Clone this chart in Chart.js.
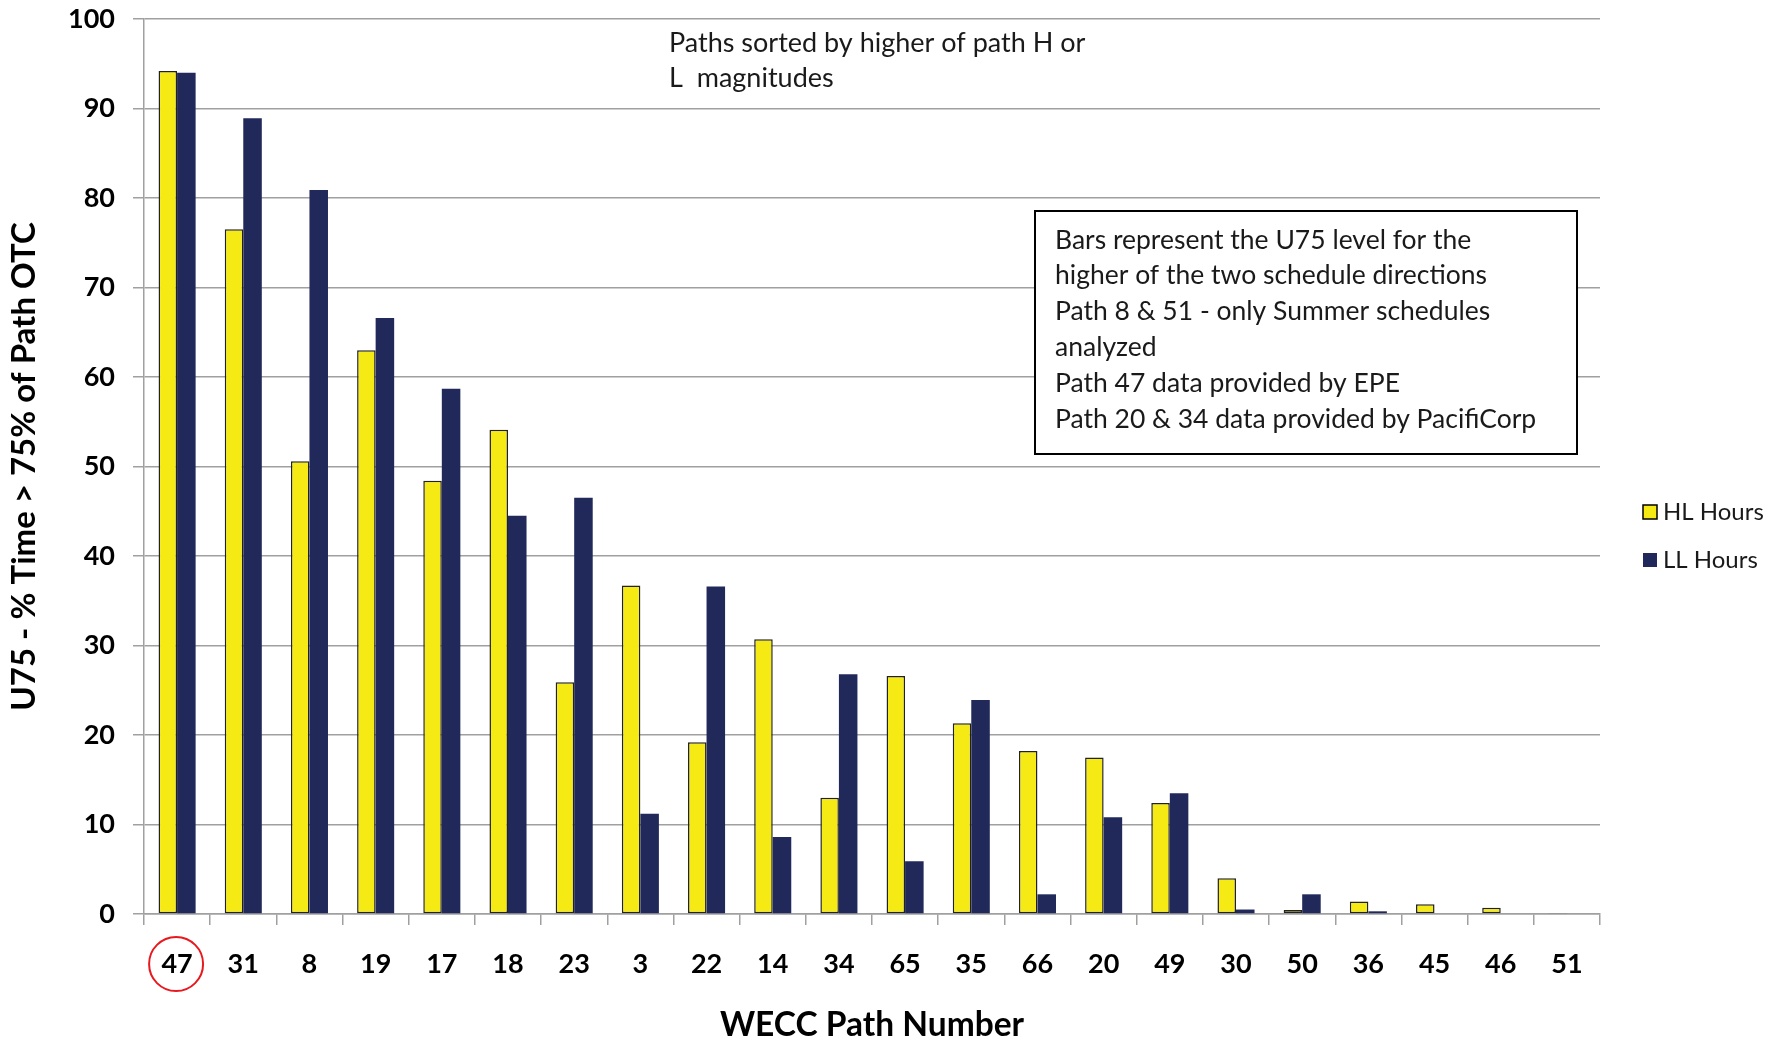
<!DOCTYPE html>
<html>
<head>
<meta charset="utf-8">
<script src="https://cdn.jsdelivr.net/npm/chart.js@4/dist/chart.umd.min.js"></script>
<style>
  body { margin: 0; background: #fff; }
  #wrap { width: 1781px; height: 1045px; }
</style>
</head>
<body>
<div id="wrap"><canvas id="pathChart" width="1781" height="1045"></canvas></div>
<script>
// WECC paths, sorted by the higher of H or L
const paths = ['47', '31', '8', '19', '17', '18', '23', '3', '22', '14', '34',
    '65', '35', '66', '20', '49', '30', '50', '36', '45', '46', '51'];
const hlHours = [94.2, 76.5, 50.6, 63.0, 48.4, 54.1, 25.9, 36.7, 19.2, 30.7, 13.0,
    26.6, 21.3, 18.2, 17.5, 12.4, 4.0, 0.45, 1.4, 1.1, 0.7, 0.1];
const llHours = [94.0, 88.9, 80.9, 66.6, 58.7, 44.5, 46.5, 11.2, 36.6, 8.6, 26.8,
    5.9, 23.9, 2.2, 10.8, 13.5, 0.5, 2.2, 0.3, 0, 0, 0];
const seriesNames = ['HL Hours', 'LL Hours'];

const noteTop = ['Paths sorted by higher of path H or', 'L  magnitudes'];
const noteBox = [
    'Bars represent the U75 level for the',
    'higher of the two schedule directions',
    'Path 8 & 51 - only Summer schedules',
    'analyzed',
    'Path 47 data provided by EPE',
    'Path 20 & 34 data provided by PacifiCorp'
];

const YELLOW = '#f5ea14';
const NAVY = '#21295b';
const GRID = '#a0a0a0';
const FONT = 'Lato, "Open Sans", sans-serif';

// notes, highlighted path, legend
const extrasPlugin = {
    id: 'extras',
    afterDraw(chart) {
        const ctx = chart.ctx;
        const area = chart.chartArea;
        ctx.save();
        ctx.fillStyle = '#1a1a1a';
        ctx.font = '27px ' + FONT;
        ctx.textBaseline = 'middle';
        ctx.textAlign = 'left';

        noteTop.forEach((line, i) => {
            ctx.fillText(line, 669, 43 + i * 35);
        });

        // text box
        ctx.fillStyle = '#fff';
        ctx.fillRect(1035, 211, 542, 243);
        ctx.strokeStyle = '#000';
        ctx.lineWidth = 2;
        ctx.strokeRect(1035, 211, 542, 243);
        ctx.fillStyle = '#1a1a1a';
        ctx.font = '26.5px ' + FONT;
        noteBox.forEach((line, i) => {
            ctx.fillText(line, 1055, 240 + i * 35.8);
        });

        // red circle round path 47
        const cx = chart.scales.x.getPixelForValue(0);
        ctx.strokeStyle = '#e8191e';
        ctx.lineWidth = 2;
        ctx.beginPath();
        ctx.arc(cx - 1, 964, 27, 0, Math.PI * 2);
        ctx.stroke();

        // legend
        ctx.font = '24px ' + FONT;
        chart.data.datasets.forEach((ds, i) => {
            const y = 512 + i * 48;
            ctx.fillStyle = ds.backgroundColor;
            ctx.fillRect(area.right + 43, y - 7, 14, 14);
            if (ds.borderWidth) {
                ctx.strokeStyle = '#000';
                ctx.lineWidth = 1.5;
                ctx.strokeRect(area.right + 43, y - 7, 14, 14);
            }
            ctx.fillStyle = '#1a1a1a';
            ctx.fillText(ds.label, area.right + 63, y);
        });
        ctx.restore();
    }
};

function createPathChart() {
    const ctx = document.getElementById('pathChart').getContext('2d');

    new Chart(ctx, {
        type: 'bar',
        data: {
            labels: paths,
            datasets: [{
                label: seriesNames[0],
                data: hlHours,
                backgroundColor: YELLOW,
                borderColor: '#222',
                borderWidth: 1.5,
                borderSkipped: false
            }, {
                label: seriesNames[1],
                data: llHours,
                backgroundColor: NAVY,
                borderWidth: 0
            }]
        },
        options: {
            responsive: false,
            animation: false,
            layout: {
                padding: { top: 19, right: 181, bottom: 0, left: 0 }
            },
            datasets: {
                bar: {
                    categoryPercentage: 0.56,
                    barPercentage: 1.0
                }
            },
            plugins: {
                legend: { display: false },
                tooltip: { enabled: false }
            },
            scales: {
                x: {
                    afterFit: scale => { scale.height = 131; },
                    grid: {
                        drawOnChartArea: false,
                        color: GRID,
                        lineWidth: 1.5,
                        tickLength: 11,
                        offset: true
                    },
                    border: { color: GRID, width: 1.5 },
                    ticks: {
                        color: '#000',
                        padding: 23,
                        maxRotation: 0,
                        font: { family: FONT, size: 27, weight: 'bold' }
                    },
                    title: {
                        display: true,
                        text: 'WECC Path Number',
                        color: '#000',
                        padding: { top: 0, bottom: 0 },
                        font: { family: FONT, size: 33.5, weight: 'bold' }
                    }
                },
                y: {
                    min: 0,
                    max: 100,
                    afterFit: scale => {
                        scale.width = 144;
                        scale.paddingTop = 0;
                        scale.paddingBottom = 0;
                    },
                    grid: {
                        color: GRID,
                        lineWidth: 1.5,
                        tickLength: 11
                    },
                    border: { color: GRID, width: 1.5 },
                    ticks: {
                        stepSize: 10,
                        color: '#000',
                        padding: 18,
                        font: { family: FONT, size: 27, weight: 'bold' }
                    },
                    title: {
                        display: true,
                        text: 'U75 - % Time > 75% of Path OTC',
                        color: '#000',
                        padding: { top: 5, bottom: 0 },
                        font: { family: FONT, size: 33, weight: 'bold' }
                    }
                }
            }
        },
        plugins: [extrasPlugin]
    });
}

document.addEventListener('DOMContentLoaded', createPathChart);
</script>
</body>
</html>
